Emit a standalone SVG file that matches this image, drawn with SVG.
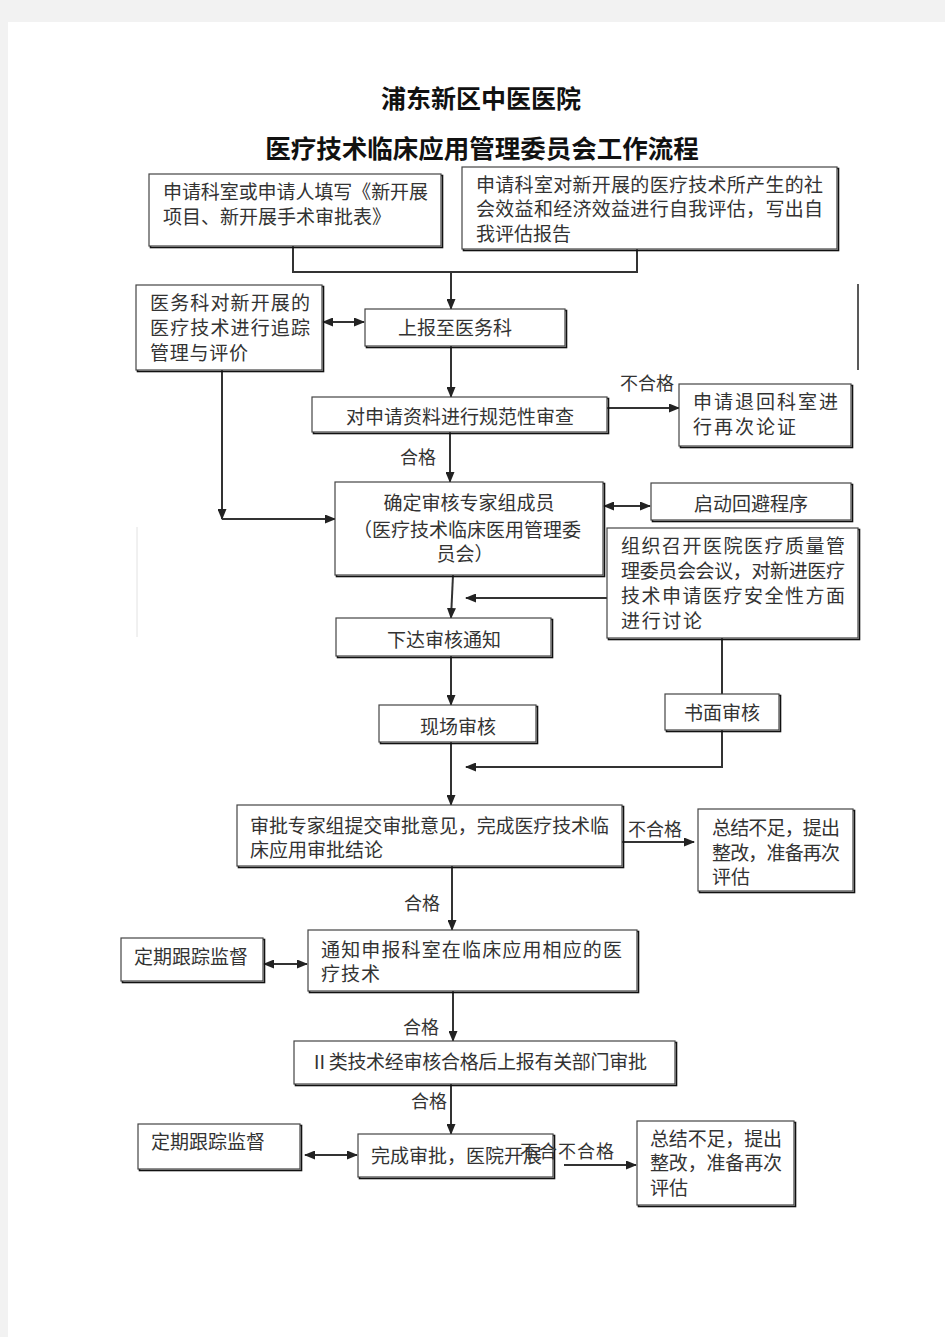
<svg xmlns="http://www.w3.org/2000/svg" width="945" height="1337" viewBox="0 0 945 1337">
<style>
.bx{fill:#fff;stroke:#444;stroke-width:1.2}
.sh{fill:none;stroke:#111;stroke-width:1.6}
.t{font-family:"Noto Sans CJK SC","Liberation Serif",serif;font-size:19px;fill:#333}
.c{text-anchor:middle}
.lb{font-family:"Noto Sans CJK SC","Liberation Serif",serif;font-size:18px;fill:#333}
.ttl{font-family:"Noto Sans CJK SC","Liberation Serif",serif;font-weight:bold;fill:#111;text-anchor:middle}
.ln{fill:none;stroke:#333;stroke-width:2}
.a{marker-end:url(#ah)}
.d{marker-end:url(#ah);marker-start:url(#ah)}
</style>
<defs>
<marker id="ah" markerUnits="userSpaceOnUse" markerWidth="11" markerHeight="9" refX="10" refY="4.5" orient="auto-start-reverse">
<path d="M0,0 L11,4.5 L0,9 z" fill="#222"/>
</marker>
</defs>
<rect x="0" y="0" width="945" height="1337" fill="#f2f2f2"/>
<rect x="8" y="22" width="937" height="1315" fill="#fff"/>

<text class="ttl" x="481" y="108" font-size="25">浦东新区中医医院</text>
<text class="ttl" x="482" y="158" font-size="25.5">医疗技术临床应用管理委员会工作流程</text>

<g id="connectors">
<polyline class="ln" points="293,246 293,272 637,272 637,249"/>
<line class="ln a" x1="451" y1="272" x2="451" y2="309"/>
<line class="ln d" x1="323" y1="322" x2="364" y2="322"/>
<line class="ln a" x1="451" y1="346" x2="451" y2="397"/>
<line class="ln a" x1="607" y1="408" x2="679" y2="408"/>
<line class="ln a" x1="450" y1="432" x2="450" y2="482"/>
<line class="ln a" x1="222" y1="370" x2="222" y2="519"/>
<line class="ln a" x1="222" y1="519" x2="335" y2="519"/>
<line class="ln d" x1="604" y1="506" x2="650" y2="506"/>
<line class="ln a" x1="607" y1="598" x2="466" y2="598"/>
<line class="ln a" x1="453" y1="575" x2="451" y2="618"/>
<line class="ln a" x1="451" y1="656" x2="451" y2="705"/>
<line class="ln" x1="722" y1="638" x2="722" y2="694"/>
<polyline class="ln a" points="722,730 722,767 466,767"/>
<line class="ln a" x1="451" y1="742" x2="451" y2="805"/>
<line class="ln a" x1="622" y1="842" x2="694" y2="842"/>
<line class="ln a" x1="452" y1="866" x2="452" y2="930"/>
<line class="ln d" x1="264" y1="964" x2="307" y2="964"/>
<line class="ln a" x1="453" y1="991" x2="453" y2="1041"/>
<line class="ln a" x1="451" y1="1084" x2="451" y2="1134"/>
<line class="ln d" x1="305" y1="1155" x2="357" y2="1155"/>
<line class="ln a" x1="564" y1="1165" x2="636" y2="1165"/>
<line x1="858" y1="284" x2="858" y2="370" stroke="#222" stroke-width="1.5"/>
<line x1="137" y1="527" x2="137" y2="637" stroke="#e2e2e2" stroke-width="1"/>
</g>

<g id="labels">
<text class="lb" x="620" y="390">不合格</text>
<text class="lb" x="400" y="464">合格</text>
<text class="lb" x="628" y="836">不合格</text>
<text class="lb" x="404" y="910">合格</text>
<text class="lb" x="403" y="1034">合格</text>
<text class="lb" x="411" y="1108">合格</text>
</g>

<g id="nA">
<rect class="sh" x="150.5" y="175.5" width="292" height="72"/>
<rect class="bx" x="149" y="174" width="292" height="72"/>
<text class="t" x="163" y="199" textLength="265" lengthAdjust="spacing">申请科室或申请人填写《新开展</text>
<text class="t" x="163" y="224">项目、新开展手术审批表》</text>
</g>
<g id="nB">
<rect class="sh" x="463.5" y="168.5" width="375" height="82"/>
<rect class="bx" x="462" y="167" width="375" height="82"/>
<text class="t" x="476" y="192" textLength="347" lengthAdjust="spacing">申请科室对新开展的医疗技术所产生的社</text>
<text class="t" x="476" y="216" textLength="347" lengthAdjust="spacing">会效益和经济效益进行自我评估，写出自</text>
<text class="t" x="476" y="241">我评估报告</text>
</g>
<g id="nC">
<rect class="sh" x="366.5" y="310.5" width="200" height="37"/>
<rect class="bx" x="365" y="309" width="200" height="37"/>
<text class="t c" x="455" y="335">上报至医务科</text>
</g>
<g id="nD">
<rect class="sh" x="137.5" y="286.5" width="186" height="85"/>
<rect class="bx" x="136" y="285" width="186" height="85"/>
<text class="t" x="150" y="310" textLength="160" lengthAdjust="spacing">医务科对新开展的</text>
<text class="t" x="150" y="335" textLength="160" lengthAdjust="spacing">医疗技术进行追踪</text>
<text class="t" x="150" y="360" textLength="98" lengthAdjust="spacing">管理与评价</text>
</g>
<g id="nE">
<rect class="sh" x="313.5" y="398.5" width="295" height="35"/>
<rect class="bx" x="312" y="397" width="295" height="35"/>
<text class="t c" x="460" y="424">对申请资料进行规范性审查</text>
</g>
<g id="nF">
<rect class="sh" x="680.5" y="385.5" width="172" height="62"/>
<rect class="bx" x="679" y="384" width="172" height="62"/>
<text class="t" x="693" y="409" textLength="145" lengthAdjust="spacing">申请退回科室进</text>
<text class="t" x="693" y="434" textLength="103" lengthAdjust="spacing">行再次论证</text>
</g>
<g id="nG">
<rect class="sh" x="336.5" y="483.5" width="268" height="93"/>
<rect class="bx" x="335" y="482" width="268" height="93"/>
<text class="t c" x="469" y="510">确定审核专家组成员</text>
<text class="t c" x="467" y="537">（医疗技术临床医用管理委</text>
<text class="t c" x="465" y="561">员会）</text>
</g>
<g id="nH">
<rect class="sh" x="652.5" y="484.5" width="200" height="37"/>
<rect class="bx" x="651" y="483" width="200" height="37"/>
<text class="t c" x="751" y="511">启动回避程序</text>
</g>
<g id="nI">
<rect class="sh" x="608.5" y="529.5" width="251" height="110"/>
<rect class="bx" x="607" y="528" width="251" height="110"/>
<text class="t" x="621" y="553" textLength="224" lengthAdjust="spacing">组织召开医院医疗质量管</text>
<text class="t" x="621" y="578" textLength="224" lengthAdjust="spacing">理委员会会议，对新进医疗</text>
<text class="t" x="621" y="603" textLength="224" lengthAdjust="spacing">技术申请医疗安全性方面</text>
<text class="t" x="621" y="628" textLength="81" lengthAdjust="spacing">进行讨论</text>
</g>
<g id="nJ">
<rect class="sh" x="337.5" y="619.5" width="215" height="38"/>
<rect class="bx" x="336" y="618" width="215" height="38"/>
<text class="t c" x="444" y="647">下达审核通知</text>
</g>
<g id="nK">
<rect class="sh" x="380.5" y="706.5" width="157" height="37"/>
<rect class="bx" x="379" y="705" width="157" height="37"/>
<text class="t c" x="458" y="734">现场审核</text>
</g>
<g id="nL">
<rect class="sh" x="666.5" y="695.5" width="114" height="36"/>
<rect class="bx" x="665" y="694" width="114" height="36"/>
<text class="t c" x="722" y="720">书面审核</text>
</g>
<g id="nM">
<rect class="sh" x="238.5" y="806.5" width="385" height="61"/>
<rect class="bx" x="237" y="805" width="385" height="61"/>
<text class="t" x="250" y="833" textLength="359" lengthAdjust="spacing">审批专家组提交审批意见，完成医疗技术临</text>
<text class="t" x="250" y="857">床应用审批结论</text>
</g>
<g id="nN">
<rect class="sh" x="699.5" y="810.5" width="155" height="82"/>
<rect class="bx" x="698" y="809" width="155" height="82"/>
<text class="t" x="712" y="835" textLength="128" lengthAdjust="spacing">总结不足，提出</text>
<text class="t" x="712" y="860" textLength="128" lengthAdjust="spacing">整改，准备再次</text>
<text class="t" x="712" y="884">评估</text>
</g>
<g id="nO">
<rect class="sh" x="309.5" y="931.5" width="329" height="61"/>
<rect class="bx" x="308" y="930" width="329" height="61"/>
<text class="t" x="321" y="957" textLength="301" lengthAdjust="spacing">通知申报科室在临床应用相应的医</text>
<text class="t" x="321" y="981" textLength="59" lengthAdjust="spacing">疗技术</text>
</g>
<g id="nP">
<rect class="sh" x="122.5" y="939.5" width="142" height="43"/>
<rect class="bx" x="121" y="938" width="142" height="43"/>
<text class="t" x="134" y="964">定期跟踪监督</text>
</g>
<g id="nQ">
<rect class="sh" x="295.5" y="1042.5" width="381" height="43"/>
<rect class="bx" x="294" y="1041" width="381" height="43"/>
<text class="t" x="310" y="1069" textLength="337" lengthAdjust="spacing">Ⅱ类技术经审核合格后上报有关部门审批</text>
</g>
<g id="nR">
<rect class="sh" x="359.5" y="1135.5" width="195" height="43"/>
<rect class="bx" x="358" y="1134" width="195" height="43"/>
<text class="t" x="371" y="1163">完成审批，医院开展</text>
</g>
<g id="nS">
<rect class="sh" x="139.5" y="1125.5" width="162" height="45"/>
<rect class="bx" x="138" y="1124" width="162" height="45"/>
<text class="t" x="151" y="1149">定期跟踪监督</text>
</g>
<g id="nT">
<rect class="sh" x="638.5" y="1122.5" width="157" height="84"/>
<rect class="bx" x="637" y="1121" width="157" height="84"/>
<text class="t" x="650" y="1146" textLength="132" lengthAdjust="spacing">总结不足，提出</text>
<text class="t" x="650" y="1170" textLength="132" lengthAdjust="spacing">整改，准备再次</text>
<text class="t" x="650" y="1195">评估</text>
</g>
<text class="lb" x="520" y="1158" textLength="94" lengthAdjust="spacing">不合不合格</text>
</svg>
